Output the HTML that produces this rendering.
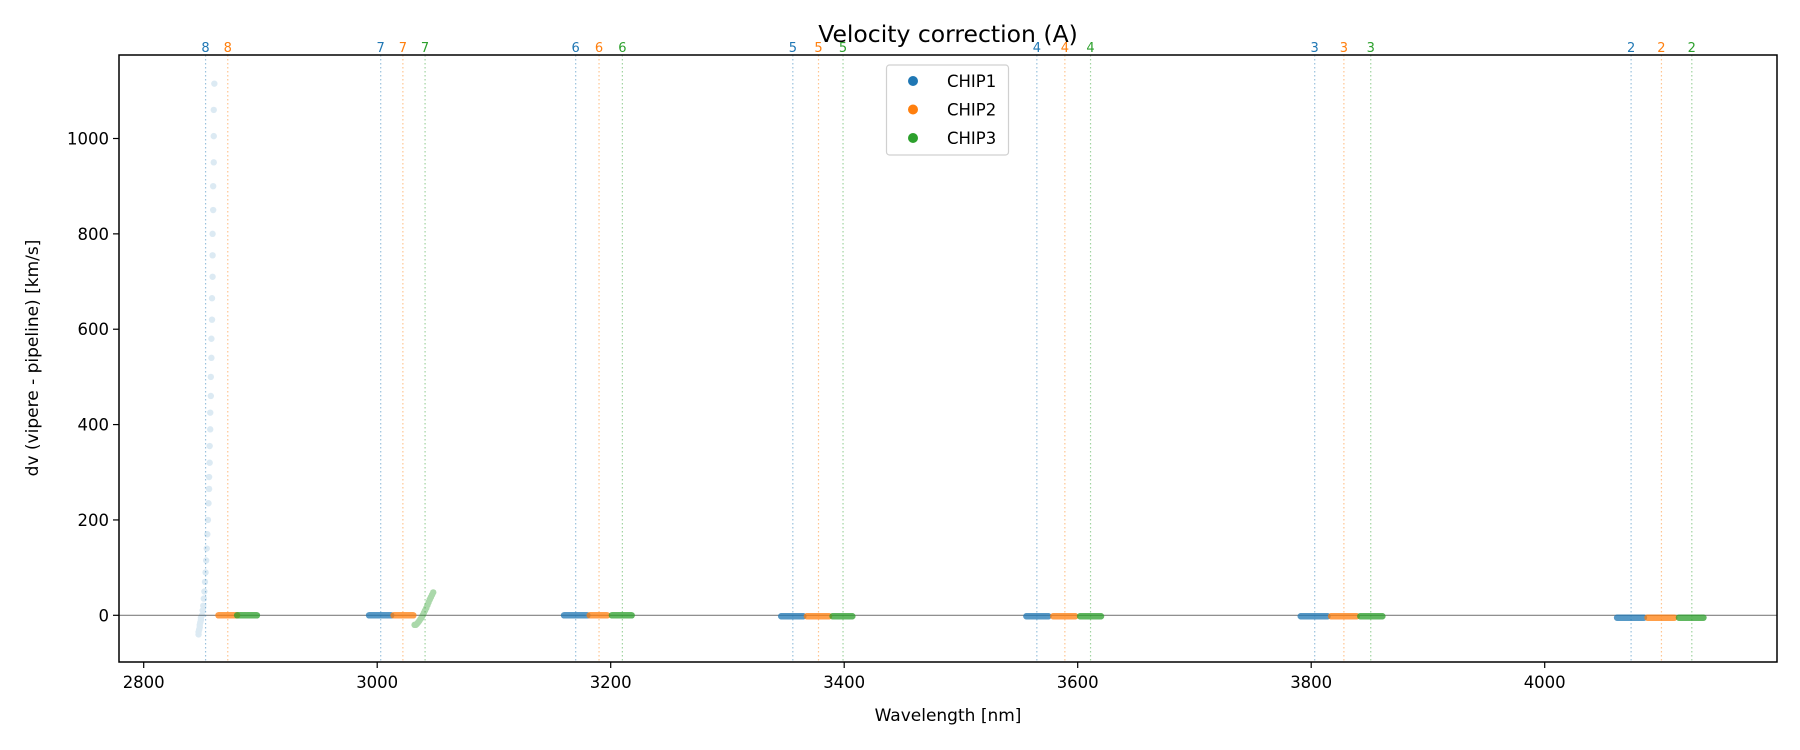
<!DOCTYPE html>
<html><head><meta charset="utf-8"><style>
body{margin:0;background:#fff;}
svg{display:block;font-family:"DejaVu Sans","Liberation Sans",sans-serif;}
</style></head><body>
<svg id="chart" width="1800" height="750" viewBox="0 0 1800 750">
<rect x="0" y="0" width="1800" height="750" fill="#fff"/>
<text x="948" y="42" text-anchor="middle" font-size="23.5" fill="#000">Velocity correction (A)</text>
<g id="plot"></g>
<text x="948" y="721" text-anchor="middle" font-size="17">Wavelength [nm]</text>
<text transform="translate(38,358) rotate(-90)" text-anchor="middle" font-size="17">dv (vipere - pipeline) [km/s]</text>
</svg>
<script>
const colors = ["#1f77b4","#ff7f0e","#2ca02c"];
const orderNums = [8,7,6,5,4,3,2];
const lineChip1 = [2853,3003,3170,3356,3565,3803,4074];
const lineChip2 = [2872,3022,3190,3378,3589,3828,4100];
const lineChip3 = [null,3041,3210,3399,3611,3851,4126];
const segChip = [1,2, 0,1, 0,1,2, 0,1,2, 0,1,2, 0,1,2, 0,1,2];
const segStart = [2864,2880, 2993,3014, 3160,3182,3201, 3346,3368,3390, 3556,3579,3602, 3791,3817,3842, 4062,4088,4115];
const segEnd   = [2880,2897, 3012,3031, 3180,3197,3218, 3365,3387,3407, 3575,3598,3620, 3814,3839,3861, 4085,4111,4136];
const segValue = [0,0, 0,0, 0,0,0, -2,-2,-2, -2,-2,-2, -2,-2,-2, -5,-5,-5];
const o8Wl = [2847,2847,2847.5,2848,2848,2848.5,2849,2849,2850,2850.5,2851,2851.5,2852,2852.5,2853,2853.5,2854,2854.5,2855,2855.5,2856,2856,2856.5,2856.5,2857,2857,2857.5,2857.5,2858,2858,2858.5,2858.5,2859,2859,2859,2859.5,2859.5,2860,2860,2860,2860.5];
const o8Dv = [-40,-35,-30,-25,-20,-15,-10,-5,0,10,20,35,50,70,90,115,140,170,200,235,265,290,320,355,390,425,460,500,540,580,620,665,710,755,800,850,900,950,1005,1060,1115];
const o7Wl = [3032,3033,3034,3035,3036,3037,3038,3039,3040,3041,3042,3043,3044,3045,3046,3047,3048];
const o7Dv = [-20,-20,-18,-15,-12,-8,-5,0,5,10,15,21,27,33,38,43,48];
const xTicks = [2800,3000,3200,3400,3600,3800,4000];
const yTicks = [0,200,400,600,800,1000];
const legendLabels = ["CHIP1","CHIP2","CHIP3"];

const L=119,R=1777,T=55,B=662;
const X=w=>143.7+(w-2800)*1.1675;
const Y=v=>615.3-(v)*0.4768;
const NS="http://www.w3.org/2000/svg";
const g=document.getElementById('plot');
function mk(tag,attrs,parent){const e=document.createElementNS(NS,tag);for(const k in attrs)e.setAttribute(k,attrs[k]);(parent||g).appendChild(e);return e;}

let zl=mk('line',{x1:L,x2:R,y1:Y(0),y2:Y(0),stroke:'#808080','stroke-width':1.2});



[lineChip1,lineChip2,lineChip3].forEach((arr,c)=>{
  arr.forEach((w,i)=>{
    if(w===null)return;
    const ln=mk('line',{x1:X(w),x2:X(w),y1:T,y2:B,stroke:colors[c],'stroke-width':1.2,'stroke-dasharray':'1.5,2.5',opacity:0.45});
    
    
    const t=mk('text',{x:X(w),y:52,'text-anchor':'middle','font-size':13,fill:colors[c]});
    t.textContent=orderNums[i];
    
    
  });
});

segStart.forEach((s,i)=>{
  const c=segChip[i];
  const grp=mk('g',{fill:colors[c],opacity:0.75});
  
  
  for(let w=s;w<=segEnd[i];w+=0.5){
    mk('circle',{cx:X(w),cy:Y(segValue[i]),r:3.2},grp);
  }
});
const g8=mk('g',{fill:colors[0],opacity:0.15});


o8Wl.forEach((w,i)=>mk('circle',{cx:X(w),cy:Y(o8Dv[i]),r:3.2},g8));
const g7=mk('g',{fill:colors[2],opacity:0.4});


o7Wl.forEach((w,i)=>mk('circle',{cx:X(w),cy:Y(o7Dv[i]),r:3.2},g7));

const fr=mk('rect',{x:L,y:T,width:R-L,height:B-T,fill:'none',stroke:'#000','stroke-width':1.5});


xTicks.forEach(v=>{
  mk('line',{x1:X(v),x2:X(v),y1:B,y2:B+6,stroke:'#000','stroke-width':1.2});
  const t=mk('text',{x:X(v),y:B+26,'text-anchor':'middle','font-size':16.5});
  t.textContent=v;
  
  
});
yTicks.forEach(v=>{
  mk('line',{x1:L-6,x2:L,y1:Y(v),y2:Y(v),stroke:'#000','stroke-width':1.2});
  const t=mk('text',{x:L-10,y:Y(v)+6,'text-anchor':'end','font-size':16.5});
  t.textContent=v;
  
  
});
const lg=mk('g',{});


mk('rect',{x:886.5,y:65,width:122,height:90,rx:3,fill:'#fff',stroke:'#ccc','stroke-width':1.2,opacity:0.9},lg);
legendLabels.forEach((lab,i)=>{
  const y=81+i*28.5;
  mk('circle',{cx:913,cy:y,r:5,fill:colors[i]},lg);
  const t=mk('text',{x:947,y:y+6,'font-size':16.5},lg);
  t.textContent=lab;
  
  
});
</script>
</body></html>
